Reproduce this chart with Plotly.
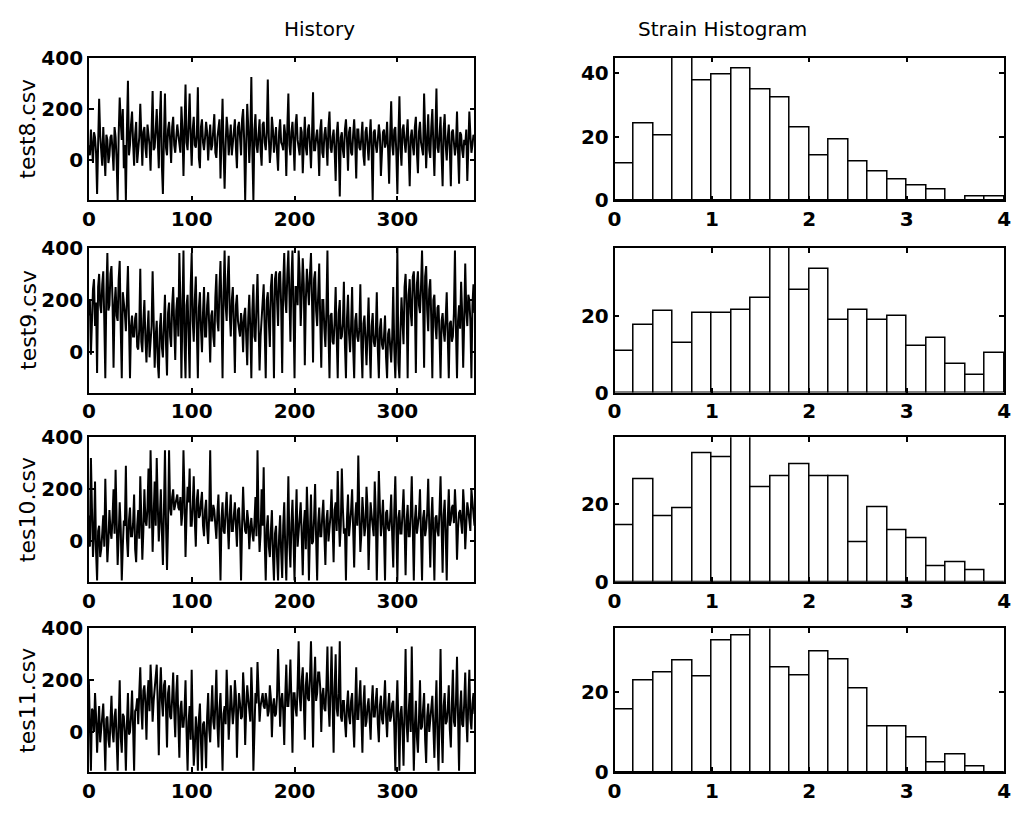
import plotly.graph_objects as go

# ---------------- data ----------------
series_names = ["test8.csv", "test9.csv", "tes10.csv", "tes11.csv"]

hist_test8 = [
    60, 20, 120, 70, -10, 110, 90, 30, -130, 60, 240, 100, 40, -20, 130, 50, -60, 100, 80, -10,
    20, 90, 100, 40, -40, 130, 90, 0, -155, 100, 245, 150, 80, 200, -30, 60, -155, 120, 310, 20,
    60, 140, 190, 70, -20, 100, 150, -10, 40, 90, 220, 30, -20, 110, 130, 50, 10, 140, 110, 60,
    -40, 150, 270, 40, 50, 120, 200, 80, -30, 160, 270, -20, -130, 90, 260, 50, 20, 120, 150, 80,
    -10, 130, 170, 60, 30, 90, 140, 100, 60, 30, 210, 120, -60, 150, 295, 70, 40, 140, 260, 90,
    -20, 120, 170, 60, 50, 100, 285, 10, -30, 130, 160, 70, 40, 90, 150, 110, 0, 80, 140, 40,
    60, 120, 180, 30, 10, 90, 140, 160, -70, 100, 240, 40, -110, 60, 170, 120, 20, 80, 140, 20,
    60, 110, 160, 50, -30, 130, 150, 90, 20, 160, 200, 80, -155, 60, 220, 130, -10, 90, 325, 30,
    -155, 120, 180, 60, 30, 100, 160, 40, -20, 140, 150, 70, 40, 110, 315, 90, -10, 50, 170, 120,
    30, 80, 130, 30, -40, 110, 160, 70, 60, 40, 140, 100, -60, 130, 260, 60, 20, 110, 150, 70,
    -40, 140, 180, 80, 50, 20, 130, 110, -50, 90, 170, 50, 20, 120, 140, 60, -30, 100, 265, 40,
    40, 90, 120, 60, -60, 120, 160, 30, 10, 100, 130, 70, -20, 130, 190, 50, 30, 90, 120, 40,
    -80, 100, 150, 60, -140, 90, 110, 40, 10, 120, 160, 80, -40, 110, 130, 30, 20, 100, 160, 70,
    -70, 120, 120, 50, 40, 90, 150, 20, -20, 110, 130, 60, 0, 90, 160, 40, -155, 110, 120, 60,
    30, 80, 140, 100, -60, 30, 110, 120, 50, 70, 150, 40, -90, 100, 230, 60, 20, 120, 130, 30,
    -130, 90, 250, 50, -20, 120, 140, 70, 30, 100, 160, 40, -100, 90, 120, 60, 20, 130, 170, 30,
    -50, 110, 150, 70, 40, 20, 260, 120, -30, 80, 180, 40, 10, 130, 200, 60, -60, 110, 280, 50,
    30, 100, 170, 20, -100, 120, 180, 60, 0, 90, 140, 40, -100, 110, 120, 70, 20, 60, 190, 30,
    -90, 110, 100, 40, 10, 80, 60, 120, -80, 50, 190, 100, 30, 60, 100, 80]

hist_test9 = [
    140, 200, -10, 150, 240, 280, 100, 190, -80, 250, 300, 180, 150, 260, 310, 120, -100, 220, 380, 160,
    180, 300, 330, 200, -60, 180, 250, 140, 120, 280, 350, 90, -100, 230, 200, 150, 80, 260, 330, 120,
    -100, 100, 140, 60, 60, 130, 150, 20, 10, 90, 320, 40, 0, 120, 200, 50, -40, 80, 160, -20,
    30, 100, 310, 40, -60, 60, 120, -40, -100, 90, 150, 20, -20, 110, 220, 30, -90, 150, 190, 60,
    20, 180, 250, 100, -30, 160, 210, 60, 380, 200, -100, 150, 390, 40, -100, 180, 220, 60, -100, 250,
    380, 120, 40, 200, 290, 80, -100, 170, 230, 90, 0, 150, 250, 60, 60, 180, 230, 100, -40, 140,
    160, 60, 20, 210, 300, 120, 80, 250, 350, 160, -100, 230, 390, 180, 120, 280, 370, 150, 60, 200,
    250, 100, -80, 180, 220, 120, 80, 60, 150, 110, 0, 140, 170, 40, -50, 130, 220, 90, -100, 160,
    260, 60, 40, 180, 300, 110, -70, 60, 130, 150, 260, 80, -100, 200, 230, 120, 20, 250, 300, 160,
    -100, 280, 310, 200, 100, 300, 310, 180, -80, 260, 380, 200, 150, 300, 390, 220, 40, 280, 390, 150,
    -100, 250, 250, 180, 390, 300, 100, 220, 360, 260, -50, 200, 320, 250, 180, 300, 380, 200, -40, 280,
    310, 160, 100, 220, 340, 120, -60, 200, 200, 90, 20, 160, 390, 80, -100, 140, 150, 40, 30, 120,
    250, 60, -100, 150, 200, 50, 60, 110, 270, 30, -100, 130, 220, 70, 0, 100, 250, 20, -100, 120,
    150, 60, 40, 90, 260, 20, -100, 110, 140, 50, -50, 80, 210, 30, -100, 100, 150, 40, 20, 70,
    230, 10, -100, 90, 130, 30, 10, 60, 140, -20, -100, 70, 90, 20, -40, 60, 250, 10, -100, 50,
    400, -40, -100, 80, 210, 120, 30, 250, 300, 180, -100, 220, 280, 150, 100, 290, 310, 200, -80, 260,
    310, 180, 150, 250, 390, 200, -60, 290, 330, 160, 80, 240, 280, 120, -100, 200, 220, 100, 50, 170,
    180, 60, -100, 120, 150, 80, 40, 130, 230, 60, -100, 110, 120, 40, 60, 150, 390, 80, -100, 120,
    180, 90, 270, 150, -60, 120, 340, 160, 100, 220, 200, 120, -100, 180, 260, 150]

hist_tes10 = [
    100, -20, 320, 60, -60, 20, 230, -40, -150, 40, 60, -60, -30, 30, 100, -20, 240, 60, -80, 0,
    120, 40, 10, 90, 200, 30, 275, 80, -90, 20, 150, 50, -150, -20, 80, 60, 290, 10, -60, 80,
    130, 20, 20, 70, 180, -30, -80, 60, 120, 10, 250, 90, -70, 40, 200, 80, 60, 130, 280, 50,
    350, 150, -40, 100, 230, 60, 320, 140, 0, 90, 200, 40, -90, 120, 350, 70, -110, 60, 350, 130,
    100, 170, 200, 120, 140, 160, 180, 130, 120, 170, 60, 110, 350, 180, -60, 100, 210, 150, 280, 60,
    60, 140, 250, 80, -20, 160, 200, 90, 100, 150, 190, 60, 20, 120, 160, 50, -10, 100, 350, 80,
    80, 140, 120, 60, 10, 110, 180, 30, -150, 90, 150, 40, 30, 120, 190, 70, -30, 100, 180, 40,
    40, 100, 150, 60, -20, 120, 130, 40, -150, 60, 210, 90, 40, 30, 120, 80, -30, 50, 90, 30,
    0, 70, 170, 20, 350, 90, -40, 30, 200, 60, 285, 0, -150, 50, 100, -20, -60, 40, 120, -50,
    -150, 30, 60, -60, -150, 20, 100, -40, -140, 60, 150, -30, -150, 40, 250, -10, -100, 70, 160, 10,
    -150, 60, 200, -20, 40, 90, 150, 20, -130, 60, 120, -30, 210, 80, -150, 30, 180, -10, 0, 90,
    220, 10, -150, 70, 130, 20, 20, 100, 160, 30, -90, 80, 120, 0, 40, 100, 200, 30, -80, 120,
    150, 40, 270, 100, -20, 60, 280, 130, 30, 50, -150, 90, 180, 20, 60, 120, 200, 40, -100, 90,
    150, 60, 330, 120, -40, 30, 170, 100, 20, 60, 210, 130, -110, 40, 150, 100, 50, 20, 230, 110,
    -150, 60, 270, 130, 20, 80, 160, 30, -150, 110, 120, 50, 40, 90, 180, 20, -100, 120, 250, 60,
    -150, 90, 120, 30, 30, 110, 200, 60, -130, 80, 140, 20, 20, 110, 250, 50, -150, 80, 140, 30,
    60, 100, 200, 40, -150, 90, 120, 20, 50, 110, 240, 60, -100, 80, 170, 20, -150, 90, 100, 40,
    20, 120, 250, 60, -120, 100, 160, 30, -150, 80, 200, 60, 80, 130, 140, 70, 200, 110, -70, 50,
    110, 120, 60, 30, 200, 130, -30, 70, 150, 120, 90, 40, 200, 150, 100, 60]

hist_tes11 = [
    200, 40, -150, 90, 80, 0, 150, 60, -80, 20, 100, -40, 20, 80, 110, -10, -150, 50, 60, -30,
    -60, 40, 140, 0, -40, 60, 90, -30, -150, 40, 200, -20, -80, 70, 60, 0, -150, 30, 150, -10,
    0, 60, 160, 20, -150, 80, 90, 130, 30, 150, 250, 90, 10, 160, 180, 110, -30, 140, 200, 80,
    260, 170, 40, 120, 160, 200, 260, 100, -90, 150, 250, 120, 60, 180, 200, 90, -60, 150, 180, 60,
    50, 130, 230, 80, -20, 150, 220, 40, -100, 90, 120, 20, 20, 80, 200, 0, -150, 40, 100, -30,
    240, 20, -130, -60, 60, 10, -150, 50, 110, -40, -150, 30, 40, -20, -140, 60, 150, 10, -40, 80,
    180, 40, 10, 110, 240, 30, -60, 90, 150, 20, -150, 70, 100, 30, 240, 120, -30, 60, 180, 100,
    30, 80, 200, 140, -100, 70, 150, 110, 50, 60, 230, 150, -50, 90, 180, 130, 80, 40, 250, 120,
    -150, 60, 150, 110, 270, 160, 40, 100, 120, 150, 100, 90, 150, 120, 60, 80, 180, 130, -20, 100,
    130, 60, 70, 140, 320, 90, 20, 120, 150, 80, -50, 140, 260, 100, 100, 170, 280, 110, -80, 150,
    150, 90, 60, 180, 350, 140, 80, 200, 250, 120, -30, 180, 230, 130, 120, 210, 350, 160, -60, 190,
    290, 120, 150, 230, 230, 170, 0, 140, 170, 90, 80, 180, 330, 110, 20, 160, 330, 120, -80, 170,
    300, 90, 60, 150, 350, 60, 40, 120, 120, 40, -20, 100, 160, 60, 30, 120, 150, 40, -60, 100,
    250, 50, 50, 130, 200, 60, -80, 110, 180, 20, 40, 100, 130, 50, -30, 110, 180, 60, 60, 120,
    170, 30, -40, 100, 140, 50, 30, 110, 200, 60, -20, 90, 150, 40, 60, 110, 120, 20, -150, 80,
    200, 40, -150, 70, 100, 10, -130, 90, 320, 30, -40, 80, 150, 0, 330, 60, -150, 20, 120, -20,
    -80, 50, 200, 10, 20, 90, 150, -30, -120, 60, 110, 0, 60, 80, 140, 20, -100, 70, 200, -10,
    -150, 60, 320, 20, -120, 100, 150, 30, 40, 90, 180, 10, -60, 110, 240, 40, 20, 120, 290, 60,
    -150, 90, 160, 30, 20, 110, 230, 60, -40, 120, 240, 50, 10, 110, 150, 70]

# strain histogram counts, bins of width 0.2 from 0 to 4
bin_edges = [0.0, 0.2, 0.4, 0.6, 0.8, 1.0, 1.2, 1.4, 1.6, 1.8, 2.0,
             2.2, 2.4, 2.6, 2.8, 3.0, 3.2, 3.4, 3.6, 3.8, 4.0]
counts_test8 = [11.5, 24.3, 20.5, 48, 37.6, 39.5, 41.4, 35, 32.5, 22.9,
                14, 19, 12.3, 9.1, 6.5, 4.6, 3.3, 0, 1.2, 1.2]
counts_test9 = [10.9, 17.9, 21.5, 13, 20.9, 20.9, 21.6, 24.9, 42, 27,
                32.4, 19.1, 21.8, 19.1, 20.2, 12.3, 14.3, 7.6, 4.7, 10.4]
counts_tes10 = [14.6, 26.3, 16.7, 18.8, 33, 31.9, 42, 24.3, 26.9, 30,
                26.9, 26.9, 10.1, 19.2, 13.3, 11.2, 3.9, 5, 2.9, 0]
counts_tes11 = [15.7, 23, 25, 28, 24, 33, 34.2, 42, 26.2, 24.1,
                30.2, 28.2, 21, 11.5, 11.5, 8.6, 2.3, 4.4, 1.5, 0]

histories = [hist_test8, hist_test9, hist_tes10, hist_tes11]
counts = [counts_test8, counts_test9, counts_tes10, counts_tes11]
hist_ymax = [45, 38, 37, 36]

# ---------------- layout geometry ----------------
W, H = 1019, 820
rows_px = [(47, 194), (243, 392), (438, 587), (635, 783)]
left_px = (83, 474)
right_px = (616, 1011)

def xdom(p):
    return [p[0] / W, p[1] / W]

def ydom(p):
    return [1 - p[1] / H, 1 - p[0] / H]

FONT = "DejaVu Sans"
tickfont = dict(family=FONT, size=20, color="black", weight="bold")
axis_common = dict(showgrid=False, zeroline=False, showline=True, linecolor="black", linewidth=1.5,
                   mirror="ticks", ticks="inside", ticklen=5, tickwidth=1.5, tickcolor="black",
                   tickfont=tickfont)

fig = go.Figure()
layout = dict(width=W, height=H, margin=dict(l=0, r=0, t=0, b=0),
              paper_bgcolor="white", plot_bgcolor="white", showlegend=False)
annotations = []

for r in range(4):
    ya = 2 * r + 1
    yb = 2 * r + 2
    data = histories[r]
    xs = list(range(len(data)))
    fig.add_trace(go.Scatter(x=xs, y=data, mode="lines", line=dict(color="black", width=2),
                             xaxis=f"x{ya}", yaxis=f"y{ya}", hoverinfo="skip"))
    c = counts[r]
    centers = [(bin_edges[i] + bin_edges[i + 1]) / 2 for i in range(len(c))]
    widths = [bin_edges[i + 1] - bin_edges[i] for i in range(len(c))]
    fig.add_trace(go.Bar(x=centers, y=c, width=widths, marker=dict(color="white",
                         line=dict(color="black", width=1.5)),
                         xaxis=f"x{yb}", yaxis=f"y{yb}", hoverinfo="skip"))

    layout[f"xaxis{ya}"] = dict(domain=xdom(left_px), anchor=f"y{ya}", range=[0, len(data) - 1],
                                tickvals=[0, 100, 200, 300], **axis_common)
    layout[f"yaxis{ya}"] = dict(domain=ydom(rows_px[r]), anchor=f"x{ya}", range=[-155, 400],
                                tickvals=[0, 200, 400], **axis_common)
    layout[f"xaxis{yb}"] = dict(domain=xdom(right_px), anchor=f"y{yb}", range=[0, 4],
                                tickvals=[0, 1, 2, 3, 4], **axis_common)
    layout[f"yaxis{yb}"] = dict(domain=ydom(rows_px[r]), anchor=f"x{yb}", range=[0, hist_ymax[r]],
                                tickvals=[0, 20, 40], **axis_common)
    yc = (rows_px[r][0] + rows_px[r][1]) / 2
    annotations.append(dict(text=series_names[r], x=21 / W, y=1 - yc / H, xref="paper", yref="paper",
                            textangle=-90, showarrow=False, xanchor="center", yanchor="middle",
                            font=dict(family=FONT, size=22, color="black")))

annotations += [
    dict(text="History", x=(left_px[0] + left_px[1]) / 2 / W, y=1 - 18 / H, xref="paper", yref="paper",
         showarrow=False, font=dict(family=FONT, size=20, color="black"), yanchor="middle"),
    dict(text="Strain Histogram", x=(right_px[0] + right_px[1]) / 2 / W, y=1 - 18 / H, xref="paper",
         yref="paper", showarrow=False, font=dict(family=FONT, size=20, color="black"),
         yanchor="middle"),
]
layout["annotations"] = annotations
layout["bargap"] = 0
fig.update_layout(**layout)
fig.write_html("out.html")
